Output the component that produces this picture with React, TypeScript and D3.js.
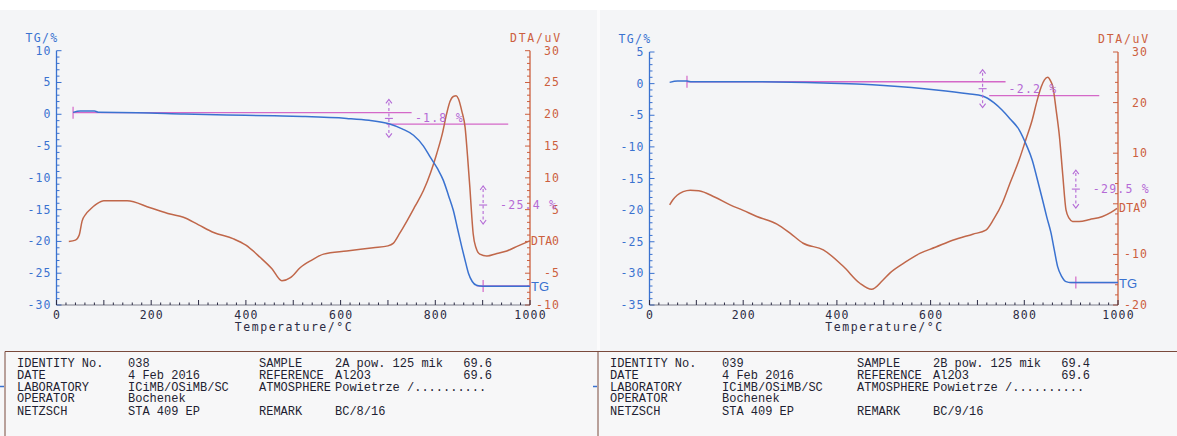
import React from "react";
import * as d3 from "d3";

// temperature axis (shared)
const tempTicks = [0, 200, 400, 600, 800, 1000];

// sample 038 (left)
const tgTicksA = [10, 5, 0, -5, -10, -15, -20, -25, -30];
const dtaTicksA = [30, 25, 20, 15, 10, 5, 0, -5, -10];
const tgA: [number, number][] = [
  [35, 0.3], [50, 0.5], [80, 0.5], [90, 0.3], [170, 0.25], [270, 0.05], [360, -0.1],
  [460, -0.25], [520, -0.35], [613, -0.65], [660, -0.95], [702, -1.5], [730, -2.3],
  [754, -3.3], [775, -5.0], [789, -6.7], [805, -8.6], [817, -10.4], [828, -12.8],
  [838, -15.1], [847, -18.0], [856, -20.9], [864, -23.3], [870, -25.0], [878, -26.3],
  [887, -26.9], [900, -27.05], [1000, -27.05],
];
const dtaA: [number, number][] = [
  [26, 0.0], [40, 0.2], [48, 1.0], [54, 3.2], [62, 4.3], [72, 5.1], [85, 5.9], [100, 6.4],
  [149, 6.4], [198, 5.3], [240, 4.3], [268, 3.8], [300, 2.6], [332, 1.4], [374, 0.4],
  [400, -0.6], [430, -2.5], [455, -4.3], [476, -6.2], [494, -5.7], [515, -4.1], [540, -2.9],
  [564, -2.0], [613, -1.5], [669, -1.0], [700, -0.7], [711, -0.3], [725, 1.3], [740, 3.2],
  [757, 5.5], [775, 8.0], [790, 10.8], [803, 13.8], [815, 17.0], [824, 20.1], [831, 22.0],
  [838, 22.8], [844, 22.9], [849, 22.4], [856, 20.5], [863, 17.9], [868, 13.5], [873, 8.5],
  [877, 4.0], [880, 1.2], [886, -1.0], [894, -2.0], [909, -2.3], [930, -1.9], [951, -1.5],
  [975, -0.7], [1000, 0.1],
];
const stepLevelsA = [0.25, -1.55, -27.0];
const stepSpansA = [[35, 750], [697, 954], [887, 1000]];
const stepArrowsA = [702, 901];
const stepLabelsA = ["-1.8 %", "-25.4 %"];

// sample 039 (right)
const tgTicksB = [5, 0, -5, -10, -15, -20, -25, -30, -35];
const dtaTicksB = [30, 20, 10, 0, -10, -20];
const tgB: [number, number][] = [
  [43, 0.2], [60, 0.4], [80, 0.4], [90, 0.3], [200, 0.3], [371, 0.1], [455, -0.1],
  [500, -0.3], [612, -1.0], [680, -1.6], [711, -1.95], [735, -3.0], [753, -4.2],
  [770, -5.6], [789, -7.3], [805, -9.8], [817, -12.1], [828, -15.2], [839, -18.4],
  [848, -21.1], [857, -23.6], [864, -26.3], [871, -28.9], [880, -30.5], [889, -31.3],
  [900, -31.45], [1000, -31.45],
];
const dtaB: [number, number][] = [
  [43, -0.2], [50, 0.8], [59, 1.7], [72, 2.4], [87, 2.7], [105, 2.6], [140, 1.3], [172, -0.2],
  [200, -1.3], [229, -2.5], [272, -4.0], [300, -5.8], [328, -7.8], [371, -9.1], [414, -12.4],
  [449, -15.7], [474, -16.9], [498, -15.1], [513, -13.7], [545, -11.6], [577, -9.8],
  [610, -8.6], [647, -7.2], [690, -6.0], [718, -5.2], [735, -3.0], [753, 0.1], [770, 4.2],
  [789, 8.7], [803, 12.6], [817, 16.6], [827, 20.3], [836, 23.1], [843, 24.5], [850, 25.0],
  [856, 24.3], [861, 23.1], [868, 18.5], [875, 13.3], [882, 5.8], [889, -1.2], [896, -2.9],
  [903, -3.5], [917, -3.5], [940, -3.1], [967, -2.5], [985, -1.7], [998, -0.9],
];
const stepLevelsB = [0.3, -1.9, -31.45];
const stepSpansB = [[80, 760], [725, 960], [896, 1000]];
const stepArrowsB = [711, 910];
const stepLabelsB = ["-2.2 %", "-29.5 %"];

// info tables
const infoLabels = ["IDENTITY No.", "DATE", "LABORATORY", "OPERATOR", "NETZSCH"];
const infoValuesA = ["038", "4 Feb 2016", "ICiMB/OSiMB/SC", "Bochenek", "STA 409 EP"];
const infoValuesB = ["039", "4 Feb 2016", "ICiMB/OSiMB/SC", "Bochenek", "STA 409 EP"];
const infoLabels2 = ["SAMPLE", "REFERENCE", "ATMOSPHERE", "", "REMARK"];
const infoValues2A = ["2A pow. 125 mik", "Al2O3", "Powietrze /..........", "", "BC/8/16"];
const infoValues2B = ["2B pow. 125 mik", "Al2O3", "Powietrze /..........", "", "BC/9/16"];
const infoMassA = ["69.6", "69.6", "", "", ""];
const infoMassB = ["69.4", "69.6", "", "", ""];

const MONO = "'DejaVu Sans Mono', monospace";
const TABLE_FONT = "'Liberation Mono', 'DejaVu Sans Mono', monospace";
const SANS = "'Liberation Sans', Arial, sans-serif";
const BLUE = "#3a72d0";
const RED = "#cc5f3e";
const CURVE_RED = "#c0674a";
const MAG = "#d468c8";
const MAG_TEXT = "#b46ad6";
const DARK = "#2c2c44";

// plotter-style text: monospace glyphs stretched to a fixed advance per character
function PText({ x, y, fill, anchor = "start", adv = 8.2, size = 11.5, children }: any) {
  const s = String(children);
  return (
    <text x={x} y={y} fill={fill} textAnchor={anchor} fontFamily={MONO} fontSize={size}
      textLength={s.length * adv - 1.5} lengthAdjust="spacing">{s}</text>
  );
}

function Panel({ cfg }: { cfg: any }) {
  const x = d3.scaleLinear().domain([0, 1000]).range([cfg.x0, cfg.x1]);
  const yTg = d3.scaleLinear().domain(cfg.tgDomain).range([cfg.yBottom, cfg.yTop]);
  const yDta = d3.scaleLinear().domain(cfg.dtaDomain).range([cfg.yBottom, cfg.yTop]);
  const tgLine = d3.line<[number, number]>().x(d => x(d[0])).y(d => yTg(d[1])).curve(d3.curveMonotoneX);
  const dtaLine = d3.line<[number, number]>().x(d => x(d[0])).y(d => yDta(d[1])).curve(d3.curveMonotoneX);

  const tgMinor = d3.range(cfg.tgDomain[0], cfg.tgDomain[1] + 0.01, 1);
  const dtaMinor = d3.range(cfg.dtaDomain[0], cfg.dtaDomain[1] + 0.01, cfg.dtaMinorStep);
  const tMinor = d3.range(0, 1001, 20);
  const [l0, l1, l2] = cfg.levels;
  const centers = [(yTg(l0) + yTg(l1)) / 2, (yTg(l1) + yTg(l2)) / 2];
  const lastTg = cfg.tg[cfg.tg.length - 1][1];
  const lastDta = cfg.dta[cfg.dta.length - 1][1];

  return (
    <g>
      {/* axis titles */}
      <PText x={cfg.x0 - 31} y={cfg.yTop - 9} fill={BLUE} adv={8.3}>TG/%</PText>
      <PText x={cfg.x1 - 20} y={cfg.yTop - 9} fill={RED} adv={8.6}>DTA/uV</PText>

      {/* TG axis */}
      <line x1={cfg.x0} x2={cfg.x0} y1={cfg.yTop} y2={cfg.yBottom} stroke={BLUE} strokeWidth={1.3} />
      {tgMinor.map(v => (
        <line key={"tm" + v} x1={cfg.x0} x2={cfg.x0 + (v % 5 === 0 ? 5 : 3)} y1={yTg(v)} y2={yTg(v)} stroke={BLUE} strokeWidth={1} />
      ))}
      {cfg.tgTicks.map((v: number) => (
        <PText key={"tl" + v} x={cfg.x0 - 6} y={yTg(v) + 4} anchor="end" fill={BLUE}>{v}</PText>
      ))}

      {/* DTA axis */}
      <line x1={cfg.x1} x2={cfg.x1} y1={cfg.yTop} y2={cfg.yBottom} stroke={RED} strokeWidth={1.3} />
      {dtaMinor.map(v => (
        <line key={"dm" + v} x1={cfg.x1 - (cfg.dtaTicks.includes(v) ? 5 : 3)} x2={cfg.x1} y1={yDta(v)} y2={yDta(v)} stroke={RED} strokeWidth={1} />
      ))}
      {cfg.dtaTicks.map((v: number) => (
        <PText key={"dl" + v} x={cfg.x1 + 29} y={yDta(v) + 4} anchor="end" fill={RED}>{v}</PText>
      ))}

      {/* temperature axis */}
      <line x1={cfg.x0} x2={cfg.x1} y1={cfg.yBottom} y2={cfg.yBottom} stroke={DARK} strokeWidth={0.6} />
      {tMinor.map(v => (
        <line key={"xm" + v} x1={x(v)} x2={x(v)} y1={cfg.yBottom} y2={cfg.yBottom - (v % 100 === 0 ? 5 : 2.5)} stroke={DARK} strokeWidth={1} />
      ))}
      {tempTicks.map(v => (
        <PText key={"xl" + v} x={x(v)} y={cfg.yBottom + 14} anchor="middle" fill={DARK}>{v}</PText>
      ))}
      <PText x={(cfg.x0 + cfg.x1) / 2} y={cfg.yBottom + 26} anchor="middle" fill={DARK} adv={8.45}>Temperature/°C</PText>

      {/* step analysis lines */}
      {cfg.spans.map((s: number[], i: number) => (
        <line key={"sp" + i} x1={x(s[0])} x2={x(s[1])} y1={yTg(cfg.levels[i])} y2={yTg(cfg.levels[i])} stroke={MAG} strokeWidth={1.3} />
      ))}
      <line x1={x(cfg.spans[0][0])} x2={x(cfg.spans[0][0])} y1={yTg(l0) - 6} y2={yTg(l0) + 6} stroke={MAG} strokeWidth={1.2} />
      <line x1={x(cfg.arrows[1])} x2={x(cfg.arrows[1])} y1={yTg(l2) - 6} y2={yTg(l2) + 6} stroke={MAG} strokeWidth={1.2} />

      {/* curves */}
      <path d={dtaLine(cfg.dta) || ""} fill="none" stroke={CURVE_RED} strokeWidth={1.5} />
      <path d={tgLine(cfg.tg) || ""} fill="none" stroke={BLUE} strokeWidth={1.5} />

      {/* step arrows and labels */}
      {cfg.arrows.map((t: number, i: number) => {
        const ax = x(t);
        const yc = centers[i];
        const h = 19;
        return (
          <g key={"ar" + i}>
            <g stroke={MAG_TEXT} fill="none" strokeWidth={1.1}>
              <line x1={ax} x2={ax} y1={yc - h + 3} y2={yc + h - 3} strokeDasharray="3,2.5" />
              <path d={`M${ax - 3},${yc - h + 4}L${ax},${yc - h}L${ax + 3},${yc - h + 4}`} />
              <path d={`M${ax - 3},${yc + h - 4}L${ax},${yc + h}L${ax + 3},${yc + h - 4}`} />
              <line x1={ax - 4} x2={ax + 4} y1={yc} y2={yc} />
            </g>
            <PText x={ax + (i === 0 ? 26 : 17)} y={yc + 4} fill={MAG_TEXT}>{cfg.labels[i]}</PText>
          </g>
        );
      })}

      {/* curve end labels */}
      <PText x={cfg.x1 + 1} y={yDta(lastDta) + 4} fill={RED} adv={7.6}>DTA</PText>
      <text x={cfg.x1 + 1} y={yTg(lastTg) + 5} fill={BLUE} fontFamily={SANS} fontSize={13}>TG</text>
    </g>
  );
}

function InfoTable({ ox, ow, cols, labels, values, labels2, values2, mass }: any) {
  const rowsY = [367, 379, 390.5, 402, 415];
  return (
    <g fill="#1e1e32" fontFamily={TABLE_FONT} fontSize={12}>
      <line x1={ox} x2={ox + ow} y1={351.5} y2={351.5} stroke="#7a4a3c" strokeWidth={1.2} />
      <line x1={ox} x2={ox} y1={351.5} y2={436} stroke="#7a4a3c" strokeWidth={1} />
      <line x1={ox - 5} x2={ox - 1} y1={386.5} y2={386.5} stroke={BLUE} strokeWidth={1.5} />
      {rowsY.map((y, i) => (
        <g key={i}>
          <text x={cols[0]} y={y}>{labels[i]}</text>
          <text x={cols[1]} y={y}>{values[i]}</text>
          <text x={cols[2]} y={y}>{labels2[i]}</text>
          <text x={cols[3]} y={y}>{values2[i]}</text>
          <text x={cols[4]} y={y} textAnchor="end">{mass[i]}</text>
        </g>
      ))}
    </g>
  );
}

export default function App() {
  const left = {
    x0: 56.5, x1: 530, yTop: 50.7, yBottom: 305,
    tgDomain: [-30, 10], dtaDomain: [-10, 30], dtaMinorStep: 1,
    tgTicks: tgTicksA, dtaTicks: dtaTicksA, tg: tgA, dta: dtaA,
    levels: stepLevelsA, spans: stepSpansA, arrows: stepArrowsA, labels: stepLabelsA,
  };
  const right = {
    x0: 649.5, x1: 1118, yTop: 52, yBottom: 305,
    tgDomain: [-35, 5], dtaDomain: [-20, 30], dtaMinorStep: 2,
    tgTicks: tgTicksB, dtaTicks: dtaTicksB, tg: tgB, dta: dtaB,
    levels: stepLevelsB, spans: stepSpansB, arrows: stepArrowsB, labels: stepLabelsB,
  };
  return (
    <svg width={1177} height={436} style={{ position: "absolute", left: 0, top: 0, background: "#f4f5f7" }}>
      <rect x={0} y={0} width={1177} height={10} fill="#ffffff" />
      <rect x={597} y={10} width={3} height={340} fill="#fbfbfc" />
      <rect x={0} y={351} width={1177} height={85} fill="#f7f7f8" />
      <Panel cfg={left} />
      <Panel cfg={right} />
      <InfoTable ox={5} ow={593} cols={[17, 128, 259, 335, 492]}
        labels={infoLabels} values={infoValuesA} labels2={infoLabels2} values2={infoValues2A} mass={infoMassA} />
      <InfoTable ox={598} ow={579} cols={[610, 722, 857, 933, 1090]}
        labels={infoLabels} values={infoValuesB} labels2={infoLabels2} values2={infoValues2B} mass={infoMassB} />
    </svg>
  );
}
